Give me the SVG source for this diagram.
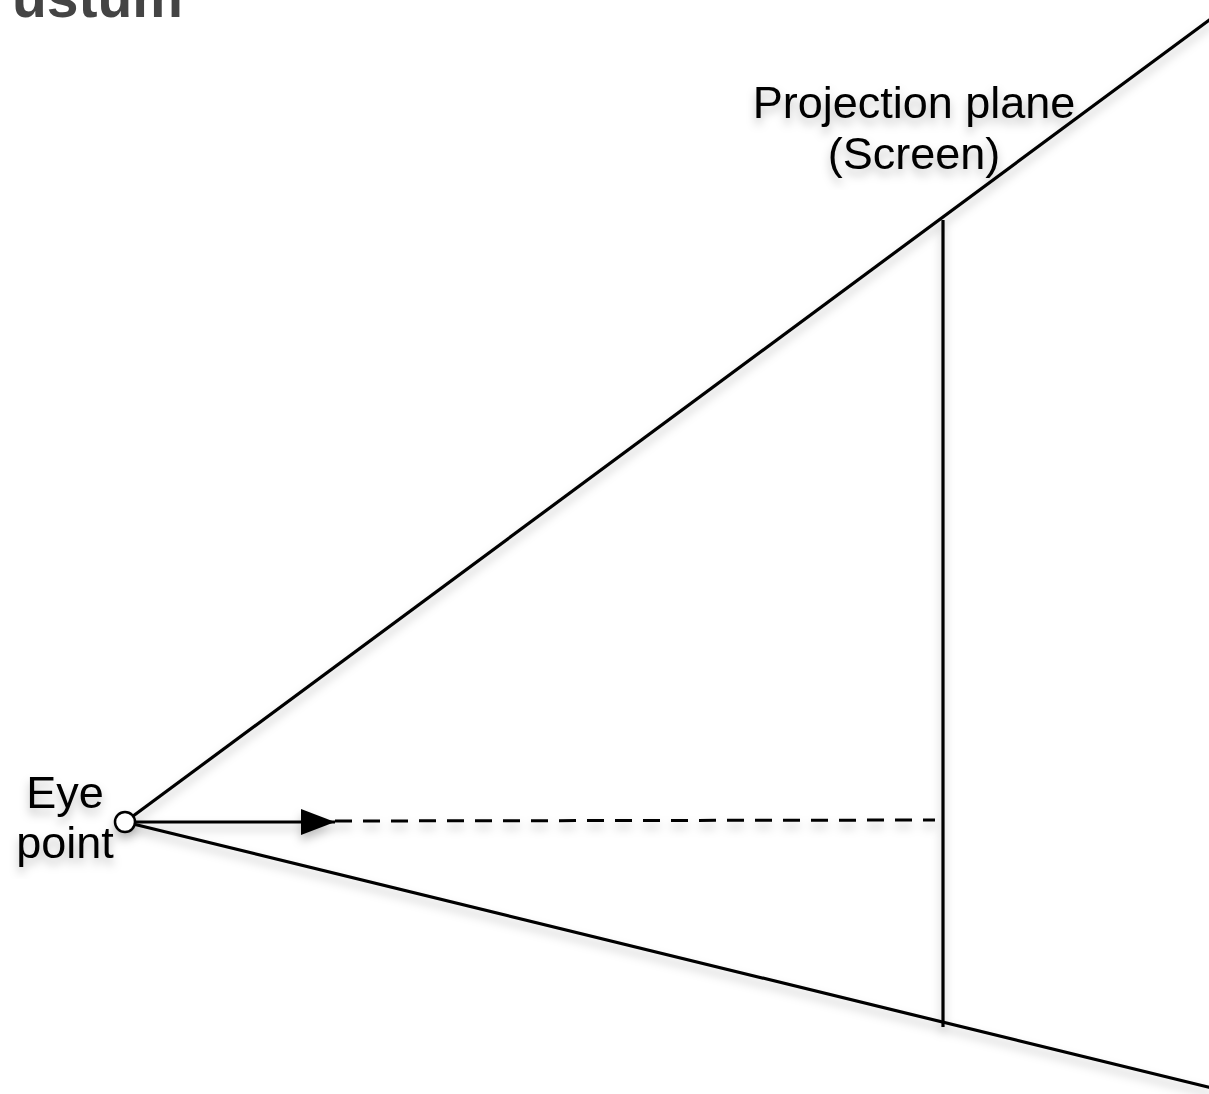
<svg xmlns="http://www.w3.org/2000/svg" width="1209" height="1094" viewBox="0 0 1209 1094">
<style>
.ln{stroke:#000;stroke-width:3.2;fill:none}
.dash{stroke:#000;stroke-width:3;fill:none;stroke-dasharray:17,11}
.lbl{font-family:"Liberation Sans",Arial,sans-serif;font-size:45px;fill:#000;text-anchor:middle}
.title{font-family:"Liberation Sans",Arial,sans-serif;font-size:57px;font-weight:bold;fill:#444}
</style>
<defs>
<filter id="sh" x="-10%" y="-10%" width="120%" height="120%">
<feDropShadow dx="0" dy="6" stdDeviation="5" flood-color="#000" flood-opacity="0.25"/>
</filter>
<marker id="ah" markerWidth="34" markerHeight="26" refX="34" refY="13" orient="auto" markerUnits="userSpaceOnUse">
<path d="M0,0 L34,13 L0,26 Z" fill="#000"/>
</marker>
</defs>
<rect width="1209" height="1094" fill="#fff"/>
<text class="title" x="12" y="17">ustum</text>
<g id="connectors" filter="url(#sh)">
<line class="ln" x1="125" y1="822" x2="1212" y2="18"/>
<line class="ln" x1="125" y1="822" x2="1212" y2="1088"/>
<line class="ln" x1="943" y1="220" x2="943" y2="1027"/>
<line class="dash" x1="335" y1="821" x2="935" y2="820"/>
<line class="ln" x1="135" y1="822" x2="335" y2="822" marker-end="url(#ah)"/>
</g>
<g id="eye" filter="url(#sh)">
<circle cx="125" cy="822" r="10" fill="#fff" stroke="#000" stroke-width="2.5"/>
<text class="lbl" x="65" y="808">Eye</text>
<text class="lbl" x="65" y="858">point</text>
</g>
<g id="screen" filter="url(#sh)">
<text class="lbl" x="914" y="118">Projection plane</text>
<text class="lbl" x="914" y="169">(Screen)</text>
</g>
</svg>
